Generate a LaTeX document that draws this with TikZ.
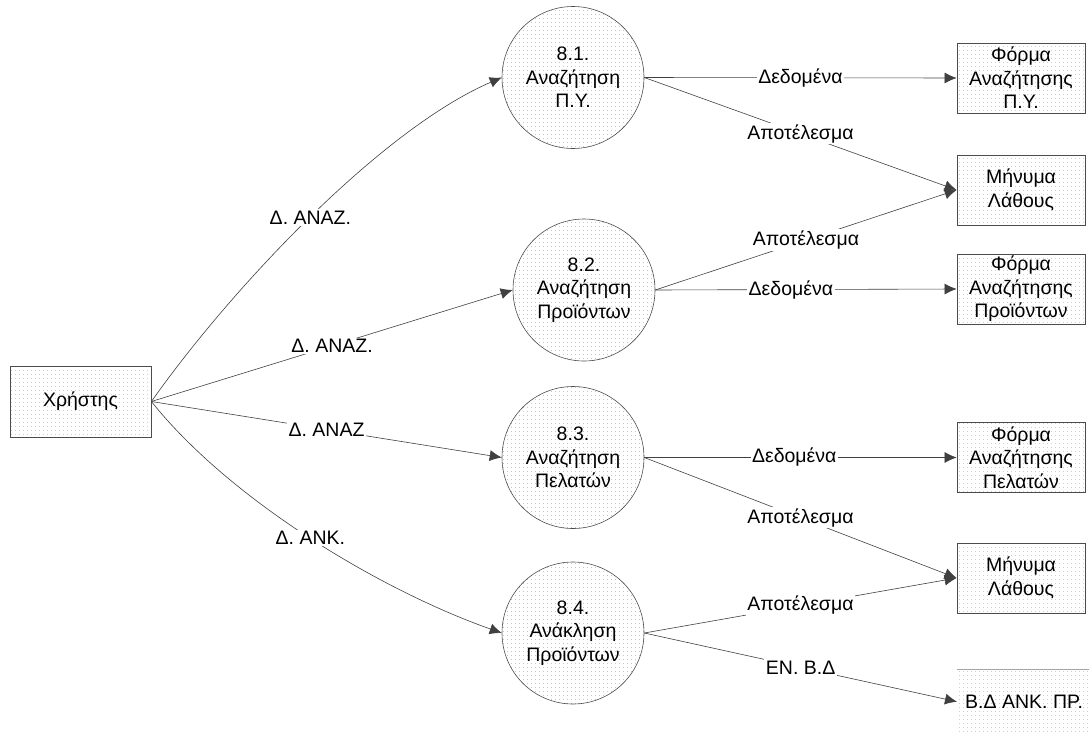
\documentclass[tikz,border=0pt]{standalone}
\usepackage{fontspec}
\setmainfont{Liberation Sans}
\usetikzlibrary{arrows.meta,patterns.meta}
\begin{document}
\begin{tikzpicture}[x=1pt,y=-1pt,
  every node/.style={font=\fontsize{19.5}{23.5}\selectfont},
  dotfill/.style={pattern={Dots[distance=4pt,radius=0.45pt]}, pattern color=gray!80},
  proc/.style={circle, draw=gray!60!black, line width=0.6pt, minimum size=142pt, inner sep=0pt, align=center, dotfill},
  ext/.style={rectangle, draw=gray!60!black, line width=0.8pt, minimum width=128pt, minimum height=70pt, inner sep=0pt, align=center, dotfill},
  store/.style={rectangle, inner sep=0pt, minimum width=132pt, minimum height=65pt, dotfill},
  flow/.style={draw=black!75, line width=0.6pt, -{Latex[length=12pt,width=11pt]}},
  lbl/.style={fill=white, inner sep=1.5pt}]
\useasboundingbox (0,0) rectangle (1089,734);

% entities and processes
\node[ext, minimum width=141pt, minimum height=71pt] (u) at (80.5,401.5) {Χρήστης};
\node[proc] (p1) at (573,77.5) {8.1.\\Αναζήτηση\\Π.Υ.};
\node[proc] (p2) at (584,290) {8.2.\\Αναζήτηση\\Προϊόντων};
\node[proc] (p3) at (573,457.5) {8.3.\\Αναζήτηση\\Πελατών};
\node[proc] (p4) at (573,633) {8.4.\\Ανάκληση\\Προϊόντων};
\node[ext] (e1) at (1021,78) {Φόρμα\\Αναζήτησης\\Π.Υ.};
\node[ext] (e2) at (1021,190) {Μήνυμα\\Λάθους};
\node[ext] (e3) at (1021,289) {Φόρμα\\Αναζήτησης\\Προϊόντων};
\node[ext] (e4) at (1021,457.5) {Φόρμα\\Αναζήτησης\\Πελατών};
\node[ext] (e5) at (1021,578) {Μήνυμα\\Λάθους};
\node[store, anchor=north west] (bd) at (957,669) {};
\draw[gray!70, line width=0.8pt] (bd.north west) -- (bd.north east);
\node[anchor=west, inner xsep=8pt, inner ysep=0pt] (bdt) at (bd.west) {Β.Δ ΑΝΚ. ΠΡ.};

% inputs
\draw[flow] (u.east) .. controls (230,290) and (380,130) .. node[lbl,pos=0.5] {Δ. ΑΝΑΖ.} (p1.west);
\draw[flow] (u.east) -- node[lbl,pos=0.5] {Δ. ΑΝΑΖ.} (p2.west);
\draw[flow] (u.east) -- node[lbl,pos=0.5] {Δ. ΑΝΑΖ} (p3.west);
\draw[flow] (u.east) .. controls (230,500) and (380,590) .. node[lbl,pos=0.5] {Δ. ΑΝΚ.} (p4.west);

% outputs
\draw[flow] (p1.east) -- node[lbl,pos=0.5] {Δεδομένα} (e1.west);
\draw[flow] (p1.east) -- node[lbl,pos=0.5] {Αποτέλεσμα} (e2.west);
\draw[flow] (p2.east) -- node[lbl,pos=0.5] {Αποτέλεσμα} (e2.west);
\draw[flow] (p2.east) -- node[lbl,pos=0.45] {Δεδομένα} (e3.west);
\draw[flow] (p3.east) -- node[lbl,pos=0.48] {Δεδομένα} (e4.west);
\draw[flow] (p3.east) -- node[lbl,pos=0.5] {Αποτέλεσμα} (e5.west);
\draw[flow] (p4.east) -- node[lbl,pos=0.5] {Αποτέλεσμα} (e5.west);
\draw[flow] (p4.east) -- node[lbl,pos=0.5] {ΕΝ. Β.Δ} (bd.west);
\end{tikzpicture}
\end{document}
